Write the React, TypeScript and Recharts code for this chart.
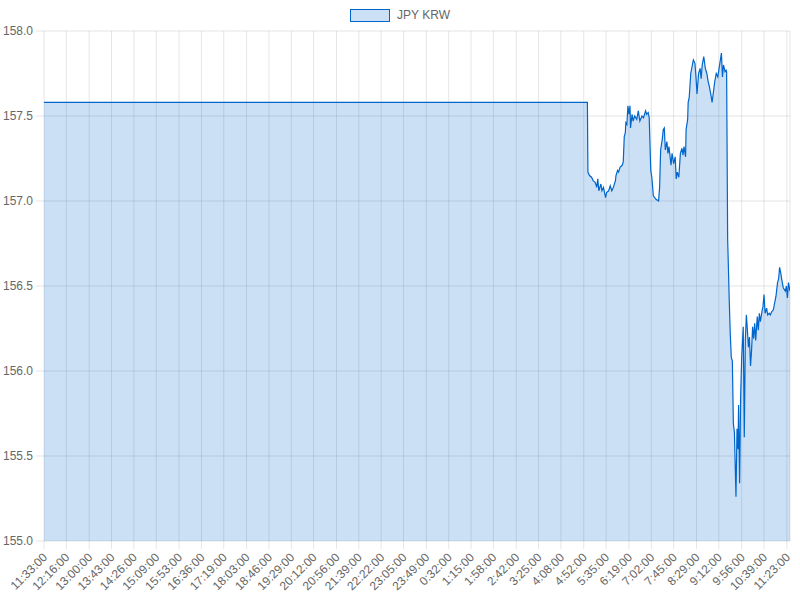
import React from 'react';
import { AreaChart, Area, XAxis, YAxis, CartesianGrid, Legend } from 'recharts';

const SERIES_NAME = 'JPY KRW';
const LINE_COLOR = '#0066cc';
const FILL_COLOR = 'rgba(0,102,204,0.2)';
const GRID_COLOR = 'rgba(0,0,0,0.1)';
const FONT = '"Liberation Sans", Arial, Helvetica, sans-serif';

/* ── Data ────────────────────────────────────────────────────────────────── */
const tickLabels = [
    '11:33:00', '12:16:00', '13:00:00', '13:43:00', '14:26:00', '15:09:00',
    '15:53:00', '16:36:00', '17:19:00', '18:03:00', '18:46:00', '19:29:00',
    '20:12:00', '20:56:00', '21:39:00', '22:22:00', '23:05:00', '23:49:00',
    '0:32:00', '1:15:00', '1:58:00', '2:42:00', '3:25:00', '4:08:00',
    '4:52:00', '5:35:00', '6:19:00', '7:02:00', '7:45:00', '8:29:00',
    '9:12:00', '9:56:00', '10:39:00', '11:23:00',
];

// minutes after 11:33:00
const minutesFromStart = [
    0, 1046, 1047, 1050, 1054, 1057, 1061, 1064, 1066, 1068, 1072, 1074, 1077,
    1081, 1083, 1087, 1090, 1093, 1096, 1100, 1101, 1104, 1106, 1109, 1113, 1115,
    1117, 1119, 1120, 1122, 1124, 1126, 1128, 1129, 1132, 1134, 1137, 1141, 1144,
    1147, 1151, 1154, 1158, 1160, 1163, 1165, 1168, 1170, 1173, 1178, 1183, 1185,
    1187, 1190, 1192, 1194, 1196, 1199, 1201, 1203, 1207, 1209, 1212, 1215, 1217,
    1219, 1222, 1225, 1228, 1230, 1232, 1235, 1236, 1239, 1240, 1242, 1245, 1248,
    1250, 1253, 1255, 1257, 1260, 1263, 1265, 1267, 1270, 1273, 1276, 1278, 1281,
    1284, 1286, 1289, 1291, 1294, 1297, 1300, 1302, 1304, 1306, 1308, 1311, 1313,
    1314, 1316, 1317, 1319, 1321, 1323, 1325, 1327, 1329, 1332, 1334, 1336, 1337,
    1339, 1341, 1343, 1344, 1346, 1348, 1350, 1352, 1354, 1356, 1358, 1360, 1362,
    1364, 1366, 1368, 1370, 1371, 1373, 1375, 1377, 1379, 1382, 1384, 1386, 1388,
    1391, 1393, 1396, 1398, 1401, 1404, 1407, 1409, 1412, 1414, 1416, 1418, 1420,
    1423, 1427, 1429, 1431, 1433, 1436,
];

const jpyKrw = [
    157.58, 157.58, 157.17, 157.15, 157.14, 157.12, 157.11, 157.08, 157.13, 157.06, 157.10, 157.06, 157.08,
    157.02, 157.05, 157.06, 157.09, 157.06, 157.08, 157.12, 157.15, 157.18, 157.17, 157.20, 157.21, 157.23,
    157.38, 157.40, 157.46, 157.45, 157.56, 157.51, 157.56, 157.43, 157.51, 157.47, 157.50, 157.48, 157.53,
    157.47, 157.50, 157.49, 157.53, 157.51, 157.52, 157.49, 157.18, 157.14, 157.03, 157.01, 157.00, 157.08,
    157.30, 157.36, 157.42, 157.43, 157.30, 157.35, 157.28, 157.32, 157.21, 157.28, 157.22, 157.26, 157.13,
    157.17, 157.14, 157.28, 157.31, 157.27, 157.32, 157.26, 157.42, 157.48, 157.58, 157.61, 157.75, 157.80,
    157.83, 157.81, 157.73, 157.63, 157.75, 157.78, 157.72, 157.80, 157.85, 157.78, 157.75, 157.71, 157.67,
    157.62, 157.58, 157.65, 157.70, 157.75, 157.73, 157.79, 157.83, 157.87, 157.73, 157.80, 157.76, 157.77,
    157.76, 156.77, 156.66, 156.42, 156.22, 156.08, 156.06, 155.69, 155.64, 155.26, 155.66, 155.54, 155.80,
    155.34, 155.85, 156.08, 156.14, 156.26, 155.61, 156.18, 156.33, 156.24, 156.14, 156.20, 156.03, 156.12,
    156.26, 156.19, 156.28, 156.18, 156.23, 156.32, 156.24, 156.34, 156.29, 156.35, 156.38, 156.45, 156.34,
    156.37, 156.33, 156.34, 156.33, 156.35, 156.36, 156.41, 156.44, 156.52, 156.54, 156.61, 156.58, 156.54,
    156.49, 156.47, 156.50, 156.43, 156.52, 156.47,
];

const yTicks = [155, 155.5, 156, 156.5, 157, 157.5, 158];

/* ── Helpers ─────────────────────────────────────────────────────────────── */
const toMinutes = (label: string): number => {
    const [h, m] = label.split(':').map(Number);
    return h * 60 + m;
};
const startMin = toMinutes(tickLabels[0]);
const tickMinutes = tickLabels.map(l => (toMinutes(l) - startMin + 1440) % 1440);
const labelAt = new Map(tickMinutes.map((m, i) => [m, tickLabels[i]]));

const data = minutesFromStart.map((t, i) => ({ t, rate: jpyKrw[i] }));

const XTick = ({ x, y, payload }: any) => (
    <g transform={`translate(${x + 1},${y + 4})`}>
        <text
            textAnchor="end"
            transform="rotate(-45)"
            dy="0.35em"
            fill="#666"
            fontSize={12}
            fontFamily={FONT}
        >
            {labelAt.get(payload.value) ?? ''}
        </text>
    </g>
);

const LegendBox = () => (
    <div style={{
        height: 31, boxSizing: 'border-box', paddingTop: 9,
        display: 'flex', justifyContent: 'center', alignItems: 'flex-start',
        fontFamily: FONT, fontSize: 12, color: '#666',
    }}>
        <span style={{
            width: 40, height: 13, boxSizing: 'border-box',
            background: FILL_COLOR, border: `1px solid ${LINE_COLOR}`, marginRight: 7,
        }} />
        <span style={{ lineHeight: '13px' }}>{SERIES_NAME}</span>
    </div>
);

export default function App() {
    return (
        <div style={{ position: 'absolute', left: 0, top: 0, width: 800, height: 600, background: '#fff' }}>
            <AreaChart
                width={800}
                height={600}
                data={data}
                margin={{ top: 0, right: 10, left: 0, bottom: 0 }}
            >
                <Legend
                    verticalAlign="top"
                    align="center"
                    content={<LegendBox />}
                    wrapperStyle={{ left: 0, width: 800, top: 0 }}
                />
                <CartesianGrid stroke={GRID_COLOR} />
                <XAxis
                    type="number"
                    dataKey="t"
                    domain={[0, 1436]}
                    ticks={tickMinutes}
                    interval={0}
                    height={59}
                    tick={<XTick />}
                    tickLine={{ stroke: GRID_COLOR }}
                    tickSize={8}
                    axisLine={false}
                    allowDataOverflow
                />
                <YAxis
                    domain={[155, 158]}
                    ticks={yTicks}
                    width={44}
                    tickFormatter={(v: number) => v.toFixed(1)}
                    tick={{ fill: '#666', fontSize: 12, fontFamily: FONT }}
                    tickLine={{ stroke: GRID_COLOR }}
                    tickSize={8}
                    tickMargin={3}
                    axisLine={false}
                />
                <Area
                    type="linear"
                    dataKey="rate"
                    stroke={LINE_COLOR}
                    strokeWidth={1.2}
                    fill={FILL_COLOR}
                    fillOpacity={1}
                    dot={false}
                    activeDot={false}
                    isAnimationActive={false}
                />
            </AreaChart>
        </div>
    );
}
